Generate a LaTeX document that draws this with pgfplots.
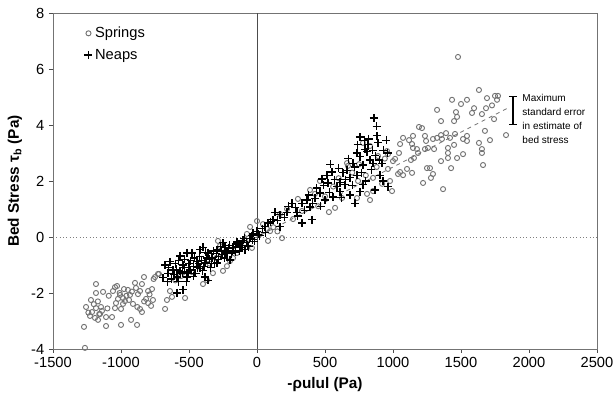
\documentclass[border=0pt]{standalone}
\usepackage{fontspec}
\setmainfont{Liberation Sans}
\usepackage{pgfplots}
\pgfplotsset{compat=1.18}

% Springs: grey circles
\pgfplotstableread{
x y
-1265 -3.96
-1272 -3.21
-1110 -3.18
-1000 -3.14
-882 -3.14
-926 -2.96
-1184 -1.68
-1184 -2.00
-1132 -1.96
-1221 -2.25
-1257 -2.50
-1213 -2.68
-1228 -2.82
-1191 -2.89
-1169 -2.96
-1184 -2.54
-1147 -2.50
-1140 -2.64
-1110 -2.86
-1154 -2.75
-1066 -2.86
-1044 -2.54
-1037 -2.36
-1059 -1.93
-1044 -1.79
-1007 -2.07
-1022 -2.21
-985 -2.18
-971 -2.29
-1000 -2.57
-985 -2.39
-949 -1.89
-934 -2.07
-941 -2.25
-897 -1.64
-890 -1.82
-912 -2.39
-875 -2.04
-860 -1.93
-846 -1.68
-816 -2.21
-801 -2.36
-765 -2.25
-779 -2.46
-860 -2.57
-846 -2.68
-772 -1.86
-801 -1.93
-831 -1.43
-750 -1.43
-721 -1.32
-978 -1.86
-1029 -1.75
-1200 -2.40
-1240 -2.70
-1170 -2.30
-1090 -2.10
-1010 -2.00
-960 -2.10
-920 -1.95
-880 -2.50
-830 -2.30
-790 -2.05
-1100 -2.55
-1160 -2.75
-760 -1.50
-728 -1.32
-640 -1.93
-625 -2.14
-529 -2.18
-676 -2.57
-662 -2.25
-397 -1.68
-368 -1.54
-324 -1.29
-250 -1.21
-221 -1.04
-199 -0.86
-176 -0.75
-287 -0.14
-272 -0.32
-147 -0.57
-74 0.11
-51 0.36
0 0.57
-37 -0.39
44 0.46
73 0.29
81 -0.14
-600 -1.55
-560 -1.40
-480 -1.25
-430 -1.05
-350 -0.95
-300 -0.75
-240 -0.55
-120 -0.30
-90 -0.10
20 0.10
120 0.35
150 0.20
221 1.00
169 0.82
265 0.64
331 0.93
96 0.21
184 -0.04
301 1.36
390 1.68
426 1.54
463 2.00
529 0.89
574 1.04
625 1.39
662 2.64
669 2.54
779 3.36
831 3.25
743 2.00
831 1.32
735 1.39
956 3.07
890 2.89
853 2.11
809 1.54
853 1.64
963 2.43
450 1.10
500 1.45
560 1.80
600 2.10
700 2.30
750 2.60
800 2.20
880 2.50
920 1.90
940 2.80
1478 6.43
1632 5.25
1434 4.90
1500 4.75
1544 4.90
1324 4.54
1463 4.46
1471 4.29
1449 4.14
1353 4.14
1596 4.60
1581 4.43
1654 4.39
1684 4.60
1728 4.70
1750 5.04
1772 5.04
1765 4.90
1691 4.96
1743 4.21
1831 3.64
1676 3.79
1713 3.46
1632 3.36
1654 3.14
1654 3.00
1662 2.57
1544 3.61
1544 3.43
1515 3.50
1515 2.96
1471 2.82
1449 3.29
1404 3.18
1404 3.00
1404 2.82
1353 2.71
1427 2.46
1368 1.71
1221 1.93
1294 2.25
1279 2.11
1272 2.46
1250 2.46
1257 3.18
1302 3.14
1235 3.14
1191 3.93
1213 3.89
1353 3.64
1390 3.71
1419 3.54
1360 3.50
1324 3.54
1456 3.68
1235 3.61
1294 3.50
1243 3.43
1147 3.61
1118 3.46
1074 3.54
1140 3.32
1147 3.18
1176 3.14
1052 3.32
1044 3.00
1184 3.00
1154 2.82
1132 2.75
1015 2.79
1000 2.71
1103 2.43
1052 2.32
1074 2.21
1140 2.29
1037 2.25
963 2.96
978 2.00
993 1.64
}\springs

% Neaps: black plus signs
\pgfplotstableread{
x y
-566 -0.68
-515 -0.57
-478 -0.57
-419 -0.46
-397 -0.36
-250 -0.21
-235 -0.36
-294 -0.46
-360 -0.57
-676 -1.00
-640 -0.89
-691 -1.46
-588 -1.43
-544 -1.00
-493 -1.18
-441 -0.89
-382 -0.93
-331 -0.75
-360 -1.54
-382 -1.43
-544 -1.89
-588 -2.00
-221 -0.57
-176 -0.36
-147 -0.18
-103 -0.11
-88 -0.46
-51 -0.04
-29 0.14
-294 -0.93
-456 -1.29
-618 -1.18
-654 -1.29
-419 -1.11
-515 -1.43
-199 -0.82
-125 -0.39
-257 -0.64
-570 -1.20
-660 -1.60
-630 -1.50
-600 -0.95
-580 -1.60
-560 -1.25
-530 -0.80
-520 -1.60
-500 -0.95
-470 -1.40
-460 -0.75
-440 -1.10
-420 -0.70
-400 -1.20
-380 -0.55
-350 -0.80
-340 -1.10
-320 -0.50
-310 -0.95
-280 -0.70
-270 -0.35
-240 -0.75
-210 -0.40
-190 -0.60
-160 -0.55
-140 -0.25
-110 -0.30
-80 -0.20
-60 -0.35
-40 0.05
-20 -0.15
0 0.20
20 0.05
40 0.30
-650 -1.10
-610 -1.35
-595 -1.15
-575 -0.85
-548 -1.30
-535 -1.10
-505 -1.25
-488 -0.85
-465 -1.05
-450 -1.30
-430 -0.95
-410 -0.85
-390 -1.05
-370 -0.75
-355 -0.60
-335 -0.95
-300 -0.60
-285 -0.80
-262 -0.50
-230 -0.60
-205 -0.30
-180 -0.50
-155 -0.35
-130 -0.50
-95 -0.05
-70 -0.30
-30 -0.10
10 0.10
60 0.15
757 3.57
882 3.61
890 3.36
816 3.29
794 3.14
809 3.04
735 3.00
757 2.86
831 2.75
853 2.64
919 2.64
904 2.21
926 2.00
963 1.79
868 1.68
779 1.86
757 1.61
735 2.21
684 2.11
662 2.39
632 2.29
551 2.32
515 2.21
478 2.07
522 1.93
588 1.79
610 1.61
647 1.86
559 1.43
463 1.57
426 1.39
368 1.32
390 1.07
331 1.21
257 1.21
294 0.89
221 0.89
169 0.79
132 0.89
118 0.61
81 0.50
59 0.36
169 0.36
331 0.50
404 0.61
500 1.32
684 1.50
721 1.21
779 2.57
706 2.64
610 1.96
860 4.25
100 0.55
150 0.60
200 0.70
230 1.10
280 1.05
300 0.75
350 0.95
380 1.50
410 1.20
440 1.75
470 1.10
490 1.85
530 1.60
540 2.60
570 2.05
600 2.45
620 1.40
650 2.05
670 2.80
700 1.85
720 2.50
740 3.30
770 2.30
790 3.45
800 2.00
820 3.50
840 2.40
850 3.10
870 2.90
880 3.95
900 2.75
930 3.10
950 3.45
960 3.00
}\neaps

\begin{document}
\begin{tikzpicture}
\begin{axis}[
  name=ax,
  scale only axis,
  width=408pt, height=252pt,
  xmin=-1500, xmax=2500,
  ymin=-4, ymax=8,
  xtick={-1500,-1000,...,2500},
  ytick={-4,-2,...,8},
  tick pos=left,
  tick align=outside,
  major tick length=3pt,
  tick style={black!70, line width=0.5pt},
  axis line style={black!55, line width=0.5pt},
  /pgf/number format/assume math mode=true,
  /pgf/number format/1000 sep={},
  ticklabel style={font=\fontsize{11}{13}\selectfont},
  label style={font=\bfseries\fontsize{11.5}{13}\selectfont},
  xlabel={-ρulul (Pa)},
  ylabel={Bed Stress τ\textsubscript{b} (Pa)},
  legend style={at={(0.05,0.975)}, anchor=north west, draw=none, fill=none,
    font=\fontsize{11}{13}\selectfont, row sep=3pt},
  legend cell align=left,
]
% reference lines
\addplot[black!70, line width=0.5pt, forget plot] coordinates {(0,-4) (0,8)};
\addplot[black!50, dotted, line width=0.5pt, forget plot] coordinates {(-1500,0) (2500,0)};
\addplot[black!55, dashed, line width=0.6pt, forget plot] coordinates {(-650,-1.62) (1850,4.62)};

\addplot[only marks, mark=o, mark size=1.9pt, draw=black!55, line width=0.7pt] table {\springs};
\addlegendentry{Springs}
\addplot[only marks, mark=+, mark size=3pt, draw=black, line width=0.85pt] table {\neaps};
\addlegendentry{Neaps}

% maximum standard error bar
\addplot[black, mark=none, forget plot,
  error bars/.cd, y dir=both, y explicit,
  error bar style={line width=0.9pt},
  error mark options={rotate=90, mark size=3pt, line width=0.9pt}]
  coordinates {(1882,4.52) +- (0,0.5)};
\node[anchor=west, align=left, inner sep=0pt,
  font=\fontsize{7.5}{10.5}\selectfont] at (axis cs:1950,4.22)
  {Maximum\\standard error\\in estimate of\\bed stress};
\end{axis}
\pgfresetboundingbox
\path ([shift={(-39.75pt,-41.25pt)}]ax.south west) rectangle ([shift={(12.75pt,9.75pt)}]ax.north east);
\end{tikzpicture}
\end{document}
